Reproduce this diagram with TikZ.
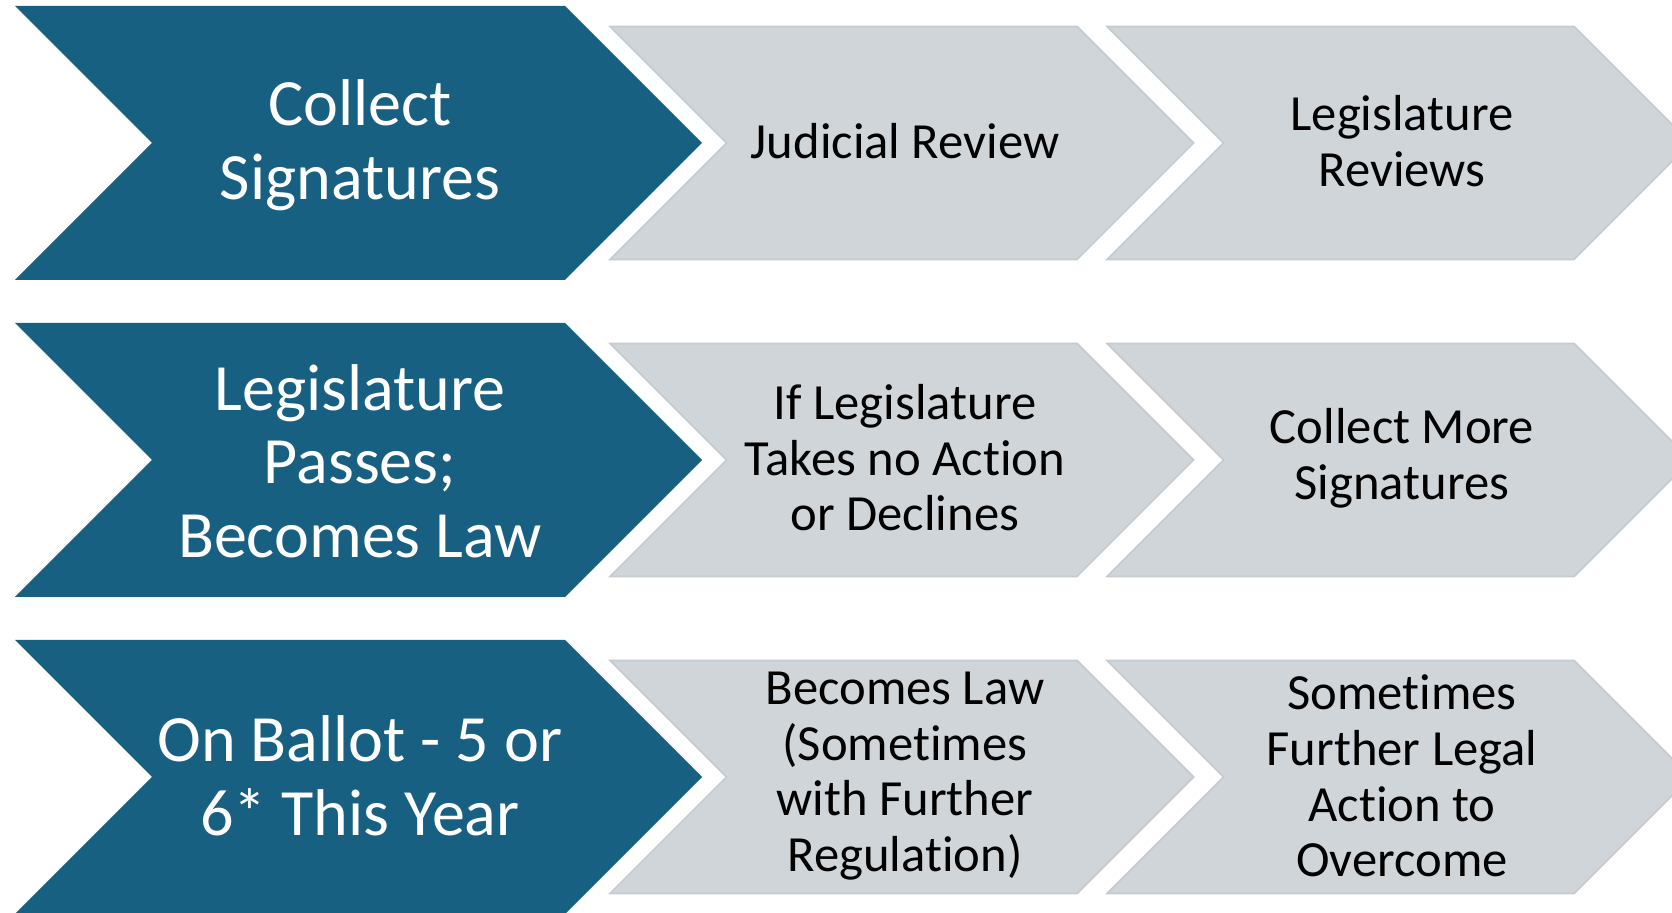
\documentclass[tikz,border=0pt]{standalone}
\usepackage{fontspec}
\setmainfont{Carlito}[Ligatures=NoCommon]
\definecolor{stepblue}{RGB}{24,96,130}
\definecolor{stepgray}{RGB}{208,213,218}
\definecolor{stepline}{RGB}{198,203,209}
\tikzset{
bluestep/.style={fill=stepblue},
graystep/.style={fill=stepgray, draw=stepline, line width=0.5pt},
bluetext/.style={text=white, align=center, font=\fontsize{18.8}{20.9}\selectfont},
graytext/.style={text=black, align=center, font=\fontsize{14.4}{15.8}\selectfont},
}
% chevron: left x, top y, body width, height, style
\newcommand{\chevron}[5]{%
  \path[#5] (#1,#2) -- ++(#3,0) -- ++(#4/2,#4/2) -- ++(-#4/2,#4/2)
    -- ++(-#3,0) -- ++(#4/2,-#4/2) -- cycle;}

\begin{document}
\begin{tikzpicture}[x=0.01cm,y=-0.01cm]
    \useasboundingbox[fill=white] (0,0) rectangle (1672,913);
    \begin{scope}
    \clip (0,0) rectangle (1672,913);
    \foreach \dy in {0,317,634} {
        \chevron{15}{6+\dy}{550}{274}{bluestep}
        \chevron{610}{26.5+\dy}{467}{233}{graystep}
        \chevron{1107}{26.5+\dy}{467}{233}{graystep}
    }
    \end{scope}

    \node[bluetext] (collect) at (360,145) {Collect\\Signatures};
    \node[graytext] (judicial) at (905,141) {Judicial Review};
    \node[graytext] (legrev) at (1402,141) {Legislature\\Reviews};

    \node[bluetext] (legpass) at (360,461) {Legislature\\Passes;\\Becomes Law};
    \node[graytext] (noaction) at (905,458) {If Legislature\\Takes no Action\\or Declines};
    \node[graytext] (moresig) at (1402,458) {Collect More\\Signatures};

    \node[bluetext] (ballot) at (360,776) {On Ballot - 5 or\\6* This Year};
    \node[graytext] (becomes) at (905,776) {Becomes Law\\(Sometimes\\with Further\\Regulation)};
    \node[graytext] (legal) at (1402,776) {Sometimes\\Further Legal\\Action to\\Overcome};
\end{tikzpicture}
\end{document}
